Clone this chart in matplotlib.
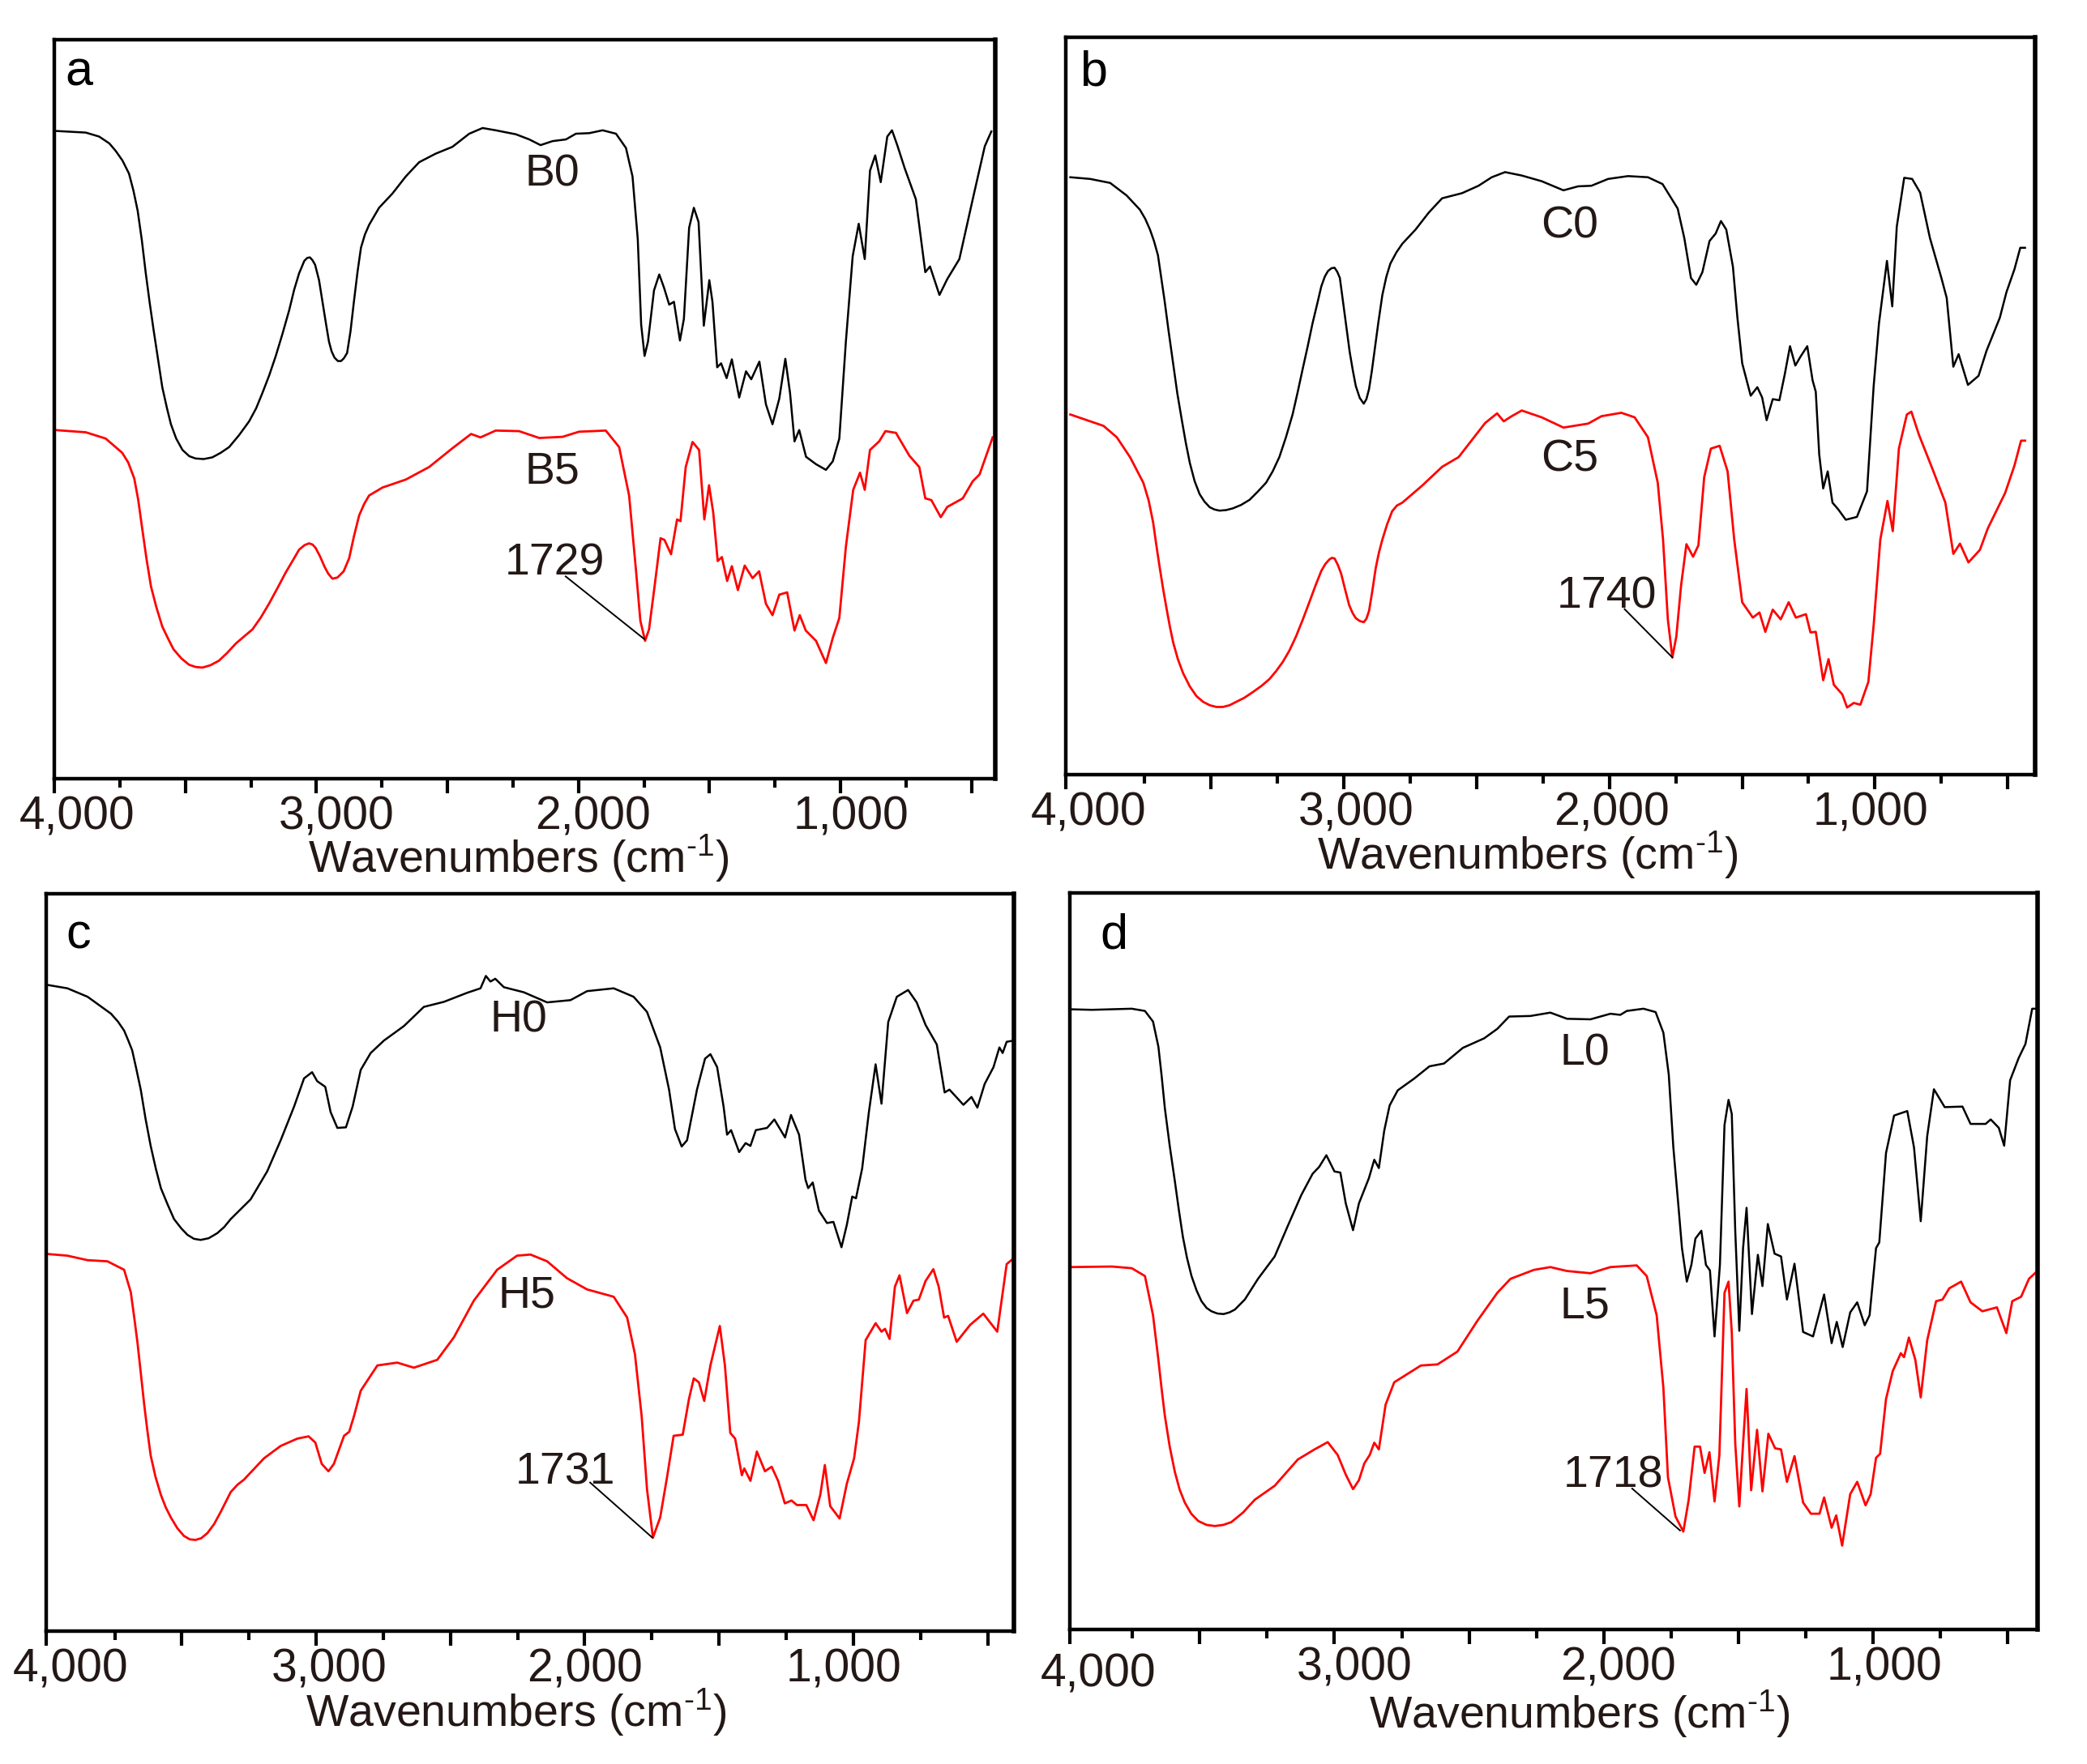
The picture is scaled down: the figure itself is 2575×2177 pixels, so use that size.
import matplotlib
matplotlib.use("Agg")
import matplotlib.pyplot as plt
from matplotlib.transforms import ScaledTranslation

plt.rcParams['font.family'] = ['Liberation Sans', 'DejaVu Sans']
plt.rcParams['mathtext.fontset'] = 'custom'
plt.rcParams['mathtext.rm'] = 'Liberation Sans'
plt.rcParams['mathtext.default'] = 'rm'

# (wavenumber, signal), arbitrary units
B0 = [(4000,1137),(3880,1134),(3829,1127),(3790,1115),(3766,1102),(3740,1085),(3715,1062),(3698,1032),(3682,997),(3666,945),
      (3651,887),(3636,835),(3621,787),(3604,735),(3588,687),(3570,650),(3555,622),(3535,597),(3511,577),(3485,566),
      (3461,562),(3430,561),(3397,564),(3365,572),(3333,582),(3295,603),(3257,627),(3230,650),(3206,677),(3180,708),
      (3155,742),(3130,780),(3104,822),(3085,858),(3066,887),(3046,909),(3035,914),(3025,915),(3015,910),(3005,902),
      (2990,875),(2977,837),(2964,800),(2952,767),(2942,750),(2931,739),(2918,733),(2906,733),(2895,738),(2883,747),
      (2870,785),(2857,837),(2843,890),(2830,932),(2815,955),(2799,972),
      (2761,1002),(2710,1027),(2659,1057),(2608,1082),(2545,1097),(2481,1109),(2417,1132),(2366,1142),(2316,1138),(2239,1131),
      (2188,1122),(2145,1112),(2099,1119),(2048,1122),(2010,1132),(1959,1133),(1908,1138),(1857,1132),(1819,1107),(1794,1057),
      (1774,947),(1761,797),(1748,742),(1735,767),(1712,857),(1692,885),(1674,862),(1654,832),(1636,837),(1613,769),
      (1598,807),(1578,967),(1560,1002),(1542,977),(1522,795),(1501,875),(1489,837),(1471,722),(1456,729),(1435,703),
      (1415,736),(1387,669),(1361,715),(1341,701),(1310,732),(1285,657),(1260,622),(1234,667),(1211,737),(1193,677),
      (1176,592),(1158,612),(1132,565),(1094,552),(1056,542),(1030,557),(1005,597),(980,767),(954,917),(931,974),
      (908,912),(888,1067),(868,1094),(847,1047),(822,1127),(804,1138),(784,1112),(756,1072),(713,1017),(677,889),
      (659,899),(623,849),(593,877),(547,912),(496,1017),(450,1110),(425,1136)]
B5 = [(4000,612),(3880,608),(3804,597),(3741,572),(3718,555),(3695,527),(3680,490),(3664,437),(3648,385),(3631,337),
      (3610,300),(3588,267),(3565,245),(3545,227),(3515,211),(3486,200),(3460,196),(3435,195),(3405,199),(3372,207),
      (3340,221),(3308,237),(3275,250),(3244,262),(3212,283),(3181,307),(3148,335),(3117,362),(3090,383),(3066,402),
      (3045,410),(3028,413),(3015,411),(3003,405),(2986,390),(2969,372),(2955,360),(2939,351),(2920,353),(2896,364),
      (2875,387),(2857,425),(2837,462),(2818,482),(2799,497),
      (2748,511),(2659,525),(2570,547),(2481,580),(2410,605),
      (2374,599),(2316,611),(2227,610),(2150,598),(2061,600),(1998,609),(1896,611),(1845,582),(1807,497),(1781,367),
      (1764,277),(1746,242),(1731,262),(1710,337),(1687,422),(1672,419),(1647,394),(1624,455),(1611,452),(1591,547),
      (1565,591),(1540,577),(1520,455),(1502,515),(1486,467),(1469,382),(1453,389),(1433,347),(1415,373),(1392,331),
      (1366,374),(1336,352),(1311,364),(1285,307),(1260,287),(1234,323),(1204,327),(1176,260),(1156,287),(1133,260),
      (1094,242),(1056,203),(1030,247),(1005,282),(980,407),(952,507),(926,537),(908,507),(888,577),(853,592),
      (829,610),(789,607),(738,567),(700,547),(677,492),(654,489),(618,459),(593,477),(534,492),(496,522),
      (470,534),(420,599)]
C0 = [(4030,1050),(3955,1047),(3880,1040),(3818,1018),(3768,993),(3748,977),(3730,958),(3715,938),(3700,913),(3688,875),
      (3675,833),(3660,780),(3643,723),(3627,670),(3610,623),(3595,583),(3580,548),(3562,516),(3543,493),(3525,480),
      (3505,470),(3487,466),(3468,464),(3443,465),(3418,468),(3387,474),(3355,483),(3325,497),(3293,513),(3268,533),
      (3243,558),(3218,593),(3193,633),(3174,672),(3155,713),(3136,753),(3118,793),(3100,828),(3085,858),(3072,875),
      (3060,885),(3047,890),(3035,891),(3025,884),(3015,873),(3007,845),(2998,813),(2988,778),(2978,743),(2966,710),
      (2955,683),(2940,662),(2925,652),(2915,660),(2905,678),(2895,708),(2885,743),(2870,795),(2855,843),(2840,875),
      (2825,898),(2802,918),(2780,933),
      (2730,958),(2680,988),(2630,1013),(2555,1022),(2493,1035),(2443,1050),
      (2393,1059),(2330,1053),(2255,1043),(2173,1027),(2118,1034),(2068,1035),(2005,1047),(1930,1052),(1855,1050),(1800,1038),
      (1743,995),(1718,943),(1693,873),(1673,861),(1650,883),(1623,938),(1600,951),(1580,973),(1560,958),(1535,893),
      (1518,803),(1500,723),(1468,666),(1443,681),(1425,663),(1408,623),(1385,660),(1360,658),(1340,703),(1320,753),
      (1300,719),(1280,735),(1255,753),(1235,693),(1223,673),(1210,563),(1195,503),(1178,533),(1160,478),(1138,466),
      (1110,448),(1068,453),(1030,498),(1005,683),(985,793),(955,903),(935,823),(918,963),(890,1049),(860,1047),
      (830,1023),(793,943),(750,873),(730,838),(705,717),(685,739),(650,685),(610,701),(580,745),(530,803),
      (505,848),(475,888),(453,926),(435,926)]
C5 = [(4030,633),(3980,625),(3905,613),(3855,593),(3805,558),(3755,513),(3735,482),(3718,443),(3705,400),(3693,363),
      (3680,325),(3668,293),(3655,260),(3643,233),(3625,203),(3605,178),(3580,155),(3555,138),(3530,128),(3505,122),
      (3480,119),(3455,119),(3430,122),(3405,128),(3375,135),(3343,145),(3310,156),(3280,168),(3255,182),(3230,198),
      (3205,218),(3180,243),(3155,272),(3130,303),(3107,332),(3085,358),(3070,370),(3055,378),(3045,381),(3035,380),
      (3022,368),(3010,353),(2995,325),(2980,298),(2967,284),(2955,275),(2940,270),(2925,268),(2915,274),(2905,288),
      (2893,322),(2880,363),(2868,390),(2855,413),(2837,440),(2818,463),(2800,473),(2780,478),
      (2705,508),(2630,541),(2568,558),(2518,588),(2468,618),(2423,635),(2398,621),(2368,630),
      (2330,640),(2255,628),(2173,610),(2080,617),(2030,630),(1955,636),(1905,628),(1855,593),(1818,513),(1798,413),
      (1780,273),(1763,206),(1748,243),(1730,333),(1710,405),(1685,383),(1665,403),(1643,523),(1618,573),(1585,578),
      (1555,533),(1530,413),(1500,303),(1460,276),(1435,285),(1413,251),(1385,290),(1355,273),(1325,303),(1298,276),
      (1260,282),(1243,250),(1223,251),(1195,166),(1175,203),(1155,158),(1123,141),(1105,118),(1080,126),(1055,123),
      (1025,163),(1005,263),(980,413),(953,481),(933,428),(910,573),(880,633),(863,638),(835,598),(780,533),
      (735,478),(705,388),(680,406),(648,373),(605,395),(575,433),(510,495),(475,543),(450,587),(435,587)]
H0 = [(4000,1148),(3926,1142),(3851,1127),(3764,1097),(3738,1083),(3715,1067),(3700,1050),(3685,1032),(3670,1000),(3653,962),
      (3635,910),(3616,862),(3597,822),(3578,787),(3553,758),(3529,732),(3503,716),(3479,704),(3455,697),(3430,695),
      (3400,698),(3368,707),(3342,718),(3318,732),(3244,767),(3182,817),(3132,872),(3082,932),(3045,982),(3015,993),
      (2996,977),(2966,967),(2946,922),(2921,894),(2889,895),(2864,932),(2834,997),(2797,1027),(2748,1049),(2673,1075),
      (2599,1109),(2524,1118),(2438,1134),(2388,1142),(2368,1164),(2351,1154),(2333,1159),(2301,1144),(2227,1135),(2140,1117),
      (2053,1121),(1991,1137),(1892,1142),(1818,1127),(1768,1100),(1719,1037),(1686,962),(1664,892),(1639,861),(1619,872),
      (1582,962),(1552,1017),(1532,1025),(1507,1002),(1483,932),(1470,882),(1455,890),(1425,851),(1401,867),(1383,862),
      (1363,890),(1321,894),(1294,909),(1254,877),(1232,917),(1202,882),(1178,802),(1168,787),(1151,797),(1128,747),
      (1098,725),(1074,727),(1044,682),(1024,722),(1004,772),(990,769),(967,822),(942,922),(917,1007),(895,937),
      (870,1082),(838,1127),(796,1139),(764,1117),(731,1077),(689,1042),(660,957),(642,962),(590,935),(560,949),
      (538,930),(511,972),(478,1002),(456,1037),(444,1027),(429,1047),(404,1049)]
H5 = [(4000,670),(3926,667),(3851,659),(3777,657),(3715,642),(3690,602),(3678,560),(3665,512),(3652,455),(3640,402),
      (3628,355),(3616,312),(3598,274),(3578,242),(3560,220),(3541,202),(3517,183),(3492,169),(3470,163),(3449,162),
      (3428,165),(3405,174),(3380,190),(3355,212),(3336,230),(3318,247),(3293,260),(3269,269),(3194,307),(3132,329),(3070,342),
      (3028,346),(3003,335),(2979,297),(2954,284),(2934,297),(2896,347),(2877,354),(2859,382),(2834,427),(2772,472),
      (2698,477),(2636,468),(2549,482),(2487,522),(2413,587),(2326,642),(2252,667),(2202,669),(2140,657),(2066,627),
      (1991,607),(1892,594),(1842,557),(1813,492),(1788,382),(1768,252),(1746,166),(1719,202),(1694,272),(1669,347),
      (1635,349),(1612,412),(1594,449),(1575,442),(1555,409),(1532,472),(1497,542),(1478,472),(1458,352),(1440,342),
      (1415,277),(1406,289),(1383,267),(1359,319),(1329,284),(1304,292),(1280,267),(1255,227),(1230,232),(1210,224),
      (1175,224),(1148,197),(1123,242),(1106,295),(1086,222),(1051,200),(1024,262),(997,307),(979,372),(954,517),
      (917,547),(895,532),(882,537),(865,519),(845,612),(828,632),(800,565),(776,587),(756,589),(731,622),
      (702,643),(682,612),(662,557),(647,560),(615,514),(565,544),(516,564),(464,532),(429,652),(404,662)]
L0 = [(3983,1109),(3901,1108),(3753,1110),(3704,1106),(3674,1087),(3654,1042),(3642,990),(3630,932),(3612,865),(3593,802),
      (3578,750),(3563,702),(3548,665),(3531,632),(3512,606),(3494,587),(3475,575),(3457,569),(3435,565),(3412,564),
      (3390,567),(3370,572),(3333,590),(3284,627),(3222,667),(3173,722),(3123,777),(3081,815),
      (3057,827),(3030,848),(3000,819),(2978,817),(2958,762),(2931,714),(2909,762),(2872,807),(2852,840),(2835,825),
      (2815,892),(2795,937),(2765,964),(2704,985),(2647,1007),(2593,1012),(2523,1040),(2444,1057),(2395,1074),(2351,1096),
      (2272,1097),(2198,1103),(2136,1092),(2049,1091),(1975,1101),(1938,1099),(1914,1106),(1852,1110),(1807,1104),(1778,1067),
      (1758,992),(1741,862),(1723,762),(1709,682),(1691,622),(1674,652),(1659,699),(1637,713),(1620,652),(1605,642),
      (1588,524),(1568,652),(1551,902),(1536,947),(1524,922),(1511,712),(1496,534),(1482,682),(1469,754),(1449,564),
      (1427,670),(1410,614),(1390,725),(1365,672),(1341,667),(1319,590),(1291,654),(1259,532),(1222,524),(1181,599),
      (1153,512),(1134,550),(1112,505),(1084,567),(1058,585),(1030,544),(1012,562),(988,682),(976,692),(951,852),
      (921,919),(872,927),(847,862),(822,730),(798,882),(773,966),(733,934),(667,935),(637,904),(581,904),
      (562,912),(532,897),(512,865),(490,982),(458,1022),(433,1047),(408,1110),(391,1110)]
L5 = [(3983,648),(3827,649),(3753,646),(3704,632),(3674,562),(3654,482),(3642,430),(3630,382),(3612,327),(3593,282),
      (3575,250),(3556,227),(3532,207),(3506,194),(3475,187),(3444,185),(3413,187),(3383,192),(3340,209),(3296,232),
      (3222,257),(3136,304),(3074,322),(3025,335),(2988,312),(2958,277),(2931,251),
      (2909,267),(2889,297),(2869,312),(2852,334),(2835,322),(2810,402),(2778,442),(2679,472),(2617,474),(2543,497),
      (2469,552),(2395,602),(2346,627),(2259,643),(2198,648),(2136,641),(2049,637),(1975,648),(1877,651),(1840,632),
      (1803,562),(1778,432),(1761,272),(1733,202),(1704,175),(1684,232),(1662,327),(1642,327),(1625,280),(1607,317),
      (1588,229),(1570,312),(1551,602),(1536,622),(1524,532),(1511,332),(1496,220),(1482,332),(1469,430),(1452,249),
      (1430,357),(1410,247),(1388,350),(1363,324),(1341,322),(1319,264),(1291,310),(1259,227),(1230,207),(1198,207),
      (1181,236),(1153,182),(1136,204),(1114,150),(1084,242),(1058,264),(1027,222),(1008,242),(988,307),(973,314),
      (951,412),(926,462),(896,494),(884,487),(866,522),(842,482),(822,415),(798,517),(765,587),(741,590),
      (716,610),(672,622),(637,585),(593,569),(539,576),(504,530),(482,587),(449,595),(420,627),(391,640)]

W, H = 2575, 2177
major = [3500, 3000, 2500, 2000, 1500, 1000, 500]
major_text = ['', '3,000', '', '2,000', '', '1,000', '']
minor = [3750, 3250, 2750, 2250, 1750, 1250, 750]

panels = [
    dict(rect=(67, 49, 1228, 961), xlim=(4000, 410), ymax=1297, name='a', name_pos=(3906, 1238),
         black=B0, red=B5, blabel=('B0', 2100, 1060), rlabel=('B5', 2100, 538),
         peak=('1729', 2092, 377), lead=((2049, 355), (1749, 245)),
         tick_dx=[28, 25, 18, 13], first_dy=0, xlabel_pos=(640, 1059)),
    dict(rect=(1315, 46, 2511, 956), xlim=(4047, 397), ymax=1296, name='b', name_pos=(3943, 1234),
         black=C0, red=C5, blabel=('C0', 2150, 964), rlabel=('C5', 2150, 554),
         peak=('1740', 2010, 313), lead=((1943, 291), (1763, 206)),
         tick_dx=[28, 15, 3, -5], first_dy=0, xlabel_pos=(1885, 1055)),
    dict(rect=(57, 1103, 1251, 2013), xlim=(4005, 402), ymax=1310, name='c', name_pos=(3886, 1235),
         black=H0, red=H5, blabel=('H0', 2247, 1085), rlabel=('H5', 2215, 595),
         peak=('1731', 2071, 281), lead=((1980, 264), (1748, 166)),
         tick_dx=[30, 16, 0, -12], first_dy=0, xlabel_pos=(637, 2113)),
    dict(rect=(1320, 1102, 2514, 2011), xlim=(3983, 388), ymax=1317, name='d', name_pos=(3820, 1240),
         black=L0, red=L5, blabel=('L0', 2069, 1030), rlabel=('L5', 2069, 577),
         peak=('1718', 1963, 274), lead=((1894, 252), (1716, 177)),
         tick_dx=[35, 25, 18, 14], first_dy=8, xlabel_pos=(1949, 2115)),
]

fig = plt.figure(figsize=(W / 100, H / 100), dpi=100)

for p in panels:
    x0, y0, x1, y1 = p['rect']
    ax = fig.add_axes([x0 / W, 1 - y1 / H, (x1 - x0) / W, (y1 - y0) / H])
    ax.set_xlim(*p['xlim'])
    ax.set_ylim(0, p['ymax'])
    ax.plot(*zip(*p['black']), color='black', lw=1.8, solid_joinstyle='round')
    ax.plot(*zip(*p['red']), color='#ff0000', lw=2.0, solid_joinstyle='round')

    # the 4,000 label sits on the left edge of the frame
    ax.set_xticks([p['xlim'][0]] + major)
    ax.set_xticklabels(['4,000'] + major_text, fontsize=41, color='#231815')
    ax.set_xticks(minor, minor=True)
    ax.set_yticks([])
    ax.tick_params(axis='x', which='major', length=13, width=3, pad=2)
    ax.tick_params(axis='x', which='minor', length=8, width=3)
    labeled = [lab for lab in ax.get_xticklabels() if lab.get_text()]
    for i, (lab, dx) in enumerate(zip(labeled, p['tick_dx'])):
        dy = -p['first_dy'] if i == 0 else 0
        lab.set_transform(lab.get_transform() + ScaledTranslation(dx / 100, dy / 100, fig.dpi_scale_trans))
    for side in ax.spines.values():
        side.set_linewidth(3.2)
    ax.spines['right'].set_linewidth(4)

    ax.text(*p['name_pos'], p['name'], fontsize=44, ha='center', va='center', color='black')
    for txt, xt, yt in [p['blabel'], p['rlabel'], p['peak']]:
        ax.text(xt, yt, txt, fontsize=40, ha='center', va='center', color='#231815')
    (xa, ya), (xb, yb) = p['lead']
    ax.plot([xa, xb], [ya, yb], color='black', lw=1.4)

    fig.text(p['xlabel_pos'][0] / W, 1 - p['xlabel_pos'][1] / H,
             r'Wavenumbers (cm$^{\text{-}1}$)', fontsize=40, ha='center', va='center', color='#231815')

fig.savefig('out.png', dpi=100)
